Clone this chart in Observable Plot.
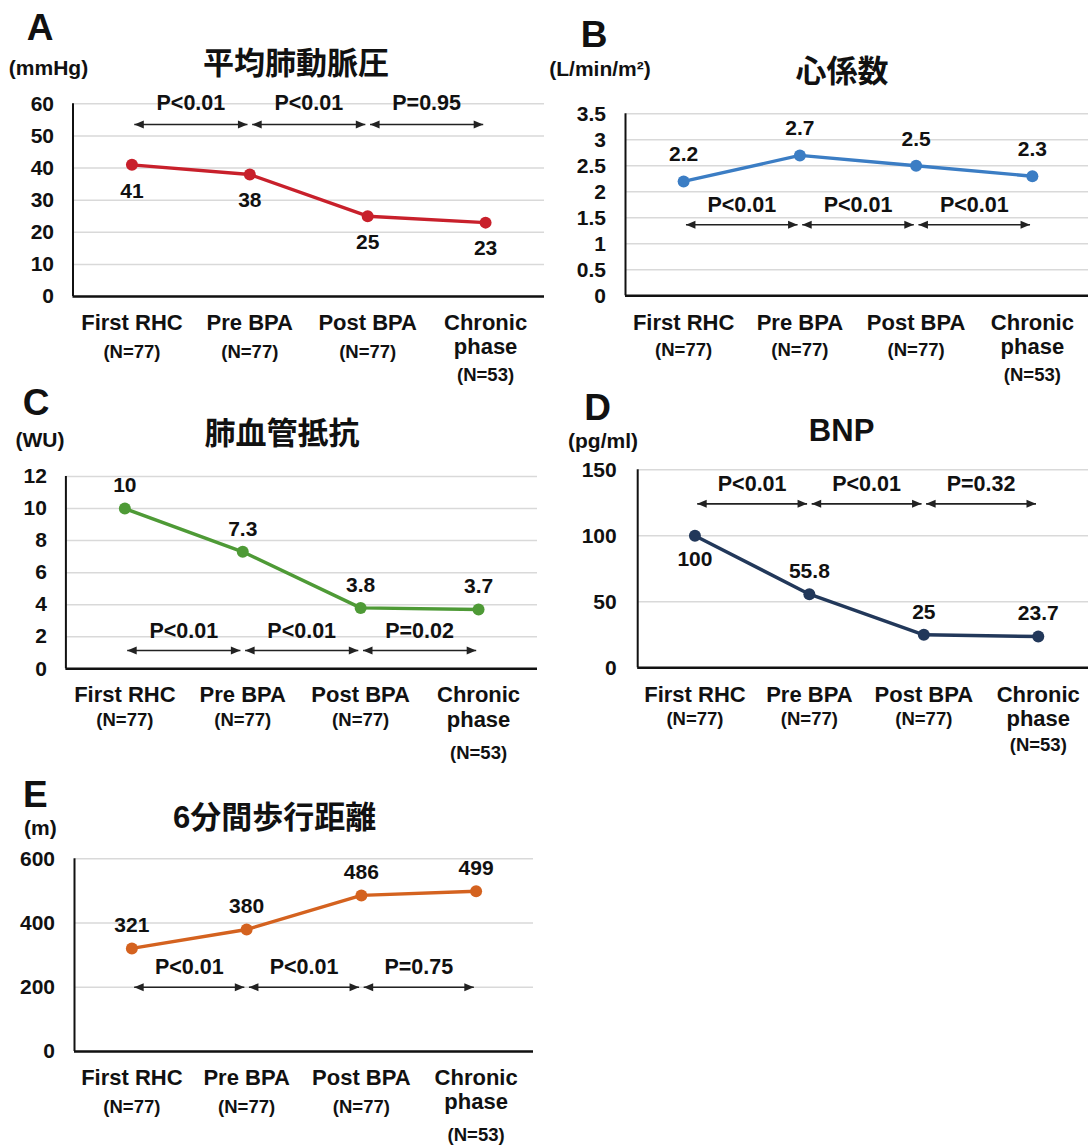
<!DOCTYPE html>
<html><head><meta charset="utf-8">
<script src="https://cdn.jsdelivr.net/npm/d3@7"></script>
<script src="https://cdn.jsdelivr.net/npm/@observablehq/plot@0.6"></script>
<style>
html,body{margin:0;padding:0;background:#fff;overflow:hidden;}
#root{position:relative;width:1088px;height:1145px;overflow:hidden;background:#fff;}
.panel{position:absolute;}
.lbl{position:absolute;transform:translate(-50%,-50%);line-height:1;white-space:nowrap;
  font-family:'Liberation Sans',Arial,'Noto Sans CJK JP',sans-serif;font-weight:700;color:#111;}
</style></head><body><div id="root"></div>
<script>
// ---------- data ----------
const categories = ["First RHC", "Pre BPA", "Post BPA", "Chronic\nphase"];
const sampleSizes = ["(N=77)", "(N=77)", "(N=77)", "(N=53)"];
const panelLetters = ["A", "B", "C", "D", "E"];
const panelTitles = ["平均肺動脈圧", "心係数", "肺血管抵抗", "BNP", "6分間歩行距離"];
const panelUnits = ["(mmHg)", "(L/min/m²)", "(WU)", "(pg/ml)", "(m)"];

const mpapValues = [41, 38, 25, 23];
const mpapLabels = ["41", "38", "25", "23"];
const mpapP = ["P<0.01", "P<0.01", "P=0.95"];
const mpapTicks = [0, 10, 20, 30, 40, 50, 60];
const mpapTickLabels = ["0", "10", "20", "30", "40", "50", "60"];

const ciValues = [2.2, 2.7, 2.5, 2.3];
const ciLabels = ["2.2", "2.7", "2.5", "2.3"];
const ciP = ["P<0.01", "P<0.01", "P<0.01"];
const ciTicks = [0, 0.5, 1, 1.5, 2, 2.5, 3, 3.5];
const ciTickLabels = ["0", "0.5", "1", "1.5", "2", "2.5", "3", "3.5"];

const pvrValues = [10, 7.3, 3.8, 3.7];
const pvrLabels = ["10", "7.3", "3.8", "3.7"];
const pvrP = ["P<0.01", "P<0.01", "P=0.02"];
const pvrTicks = [0, 2, 4, 6, 8, 10, 12];
const pvrTickLabels = ["0", "2", "4", "6", "8", "10", "12"];

const bnpValues = [100, 55.8, 25, 23.7];
const bnpLabels = ["100", "55.8", "25", "23.7"];
const bnpP = ["P<0.01", "P<0.01", "P=0.32"];
const bnpTicks = [0, 50, 100, 150];
const bnpTickLabels = ["0", "50", "100", "150"];

const walkValues = [321, 380, 486, 499];
const walkLabels = ["321", "380", "486", "499"];
const walkP = ["P<0.01", "P<0.01", "P=0.75"];
const walkTicks = [0, 200, 400, 600];
const walkTickLabels = ["0", "200", "400", "600"];

// ---------- layout ----------
const FONT = "'Liberation Sans', Arial, 'Noto Sans CJK JP', sans-serif";
const panels = [
  {values: mpapValues, labels: mpapLabels, p: mpapP, ticks: mpapTicks, tickLabels: mpapTickLabels,
   color: "#C8202B", box: {left: 0, top: 0, w: 545, h: 388}, m: {l: 72.5, r: 1, t: 103.3, b: 92},
   yMax: 60, pY: 60.1, arrowY: 53.55, labelDy: 26, below: [true, true, true, true], tickDx: -19,
   catDy: 16.5, nDy: 61, n2Dy: 84.5,
   letter: [40, 27], unit: [48.5, 67], title: [296, 63]},
  {values: ciValues, labels: ciLabels, p: ciP, ticks: ciTicks, tickLabels: ciTickLabels,
   color: "#3B7DC4", box: {left: 545, top: 0, w: 545, h: 388}, m: {l: 80, r: 0, t: 113.3, b: 92.7},
   yMax: 3.5, pY: 1.737, arrowY: 1.365, labelDy: 27, below: [false, false, false, false], tickDx: -19.5,
   catDy: 17, nDy: 60, n2Dy: 85,
   letter: [594, 34], unit: [600, 68.3], title: [842, 70.7]},
  {values: pvrValues, labels: pvrLabels, p: pvrP, ticks: pvrTicks, tickLabels: pvrTickLabels,
   color: "#4E9A36", box: {left: 0, top: 388, w: 545, h: 380}, m: {l: 65.4, r: 8, t: 88, b: 99.7},
   yMax: 12, pY: 2.346, arrowY: 1.142, labelDy: 23, below: [false, false, false, false], tickDx: -19,
   catDy: 16.5, nDy: 57.5, n2Dy: 90,
   letter: [36, 401.7], unit: [40, 439.3], title: [282, 433.3]},
  {values: bnpValues, labels: bnpLabels, p: bnpP, ticks: bnpTicks, tickLabels: bnpTickLabels,
   color: "#22385A", box: {left: 545, top: 388, w: 550, h: 380}, m: {l: 92.2, r: 0, t: 81.3, b: 100.7},
   yMax: 150, pY: 139.4, arrowY: 124.2, labelDy: 23, below: [true, false, false, false], tickDx: -21,
   catDy: 17, nDy: 57, n2Dy: 83,
   letter: [597.7, 406.7], unit: [603, 440], title: [841.6, 430]},
  {values: walkValues, labels: walkLabels, p: walkP, ticks: walkTicks, tickLabels: walkTickLabels,
   color: "#D4621F", box: {left: 0, top: 768, w: 545, h: 377}, m: {l: 74, r: 12, t: 90.3, b: 94},
   yMax: 600, pY: 262.5, arrowY: 200.2, labelDy: 23, below: [false, false, false, false], tickDx: -19.5,
   catDy: 16.5, nDy: 61, n2Dy: 89,
   letter: [35.3, 794], unit: [40.4, 826.7], title: [274.6, 816.7]}
];

const headRight = {draw(ctx) { ctx.moveTo(0, 0); ctx.lineTo(-9.5, -4); ctx.lineTo(-9.5, 4); ctx.closePath(); }};
const headLeft = {draw(ctx) { ctx.moveTo(0, 0); ctx.lineTo(9.5, -4); ctx.lineTo(9.5, 4); ctx.closePath(); }};
const INK = "#111";
const root = document.getElementById("root");

panels.forEach((L, k) => {
  const pts = L.values.map((v, i) => ({i, v, label: L.labels[i], below: L.below[i]}));
  const cats = categories.map((name, i) => ({i, name, n: sampleSizes[i], twoLine: name.includes("\n")}));
  const inset = 0.02;
  const seg = L.p.map((p, i) => ({a: i + inset, b: i + 1 - inset, mid: i + 0.5, p}));
  const txt = {fontFamily: FONT, fontWeight: 700, fill: INK};

  const chart = Plot.plot({
    width: L.box.w, height: L.box.h,
    marginLeft: L.m.l, marginRight: L.m.r, marginTop: L.m.t, marginBottom: L.m.b,
    x: {type: "linear", domain: [-0.5, 3.5], axis: null},
    y: {type: "linear", domain: [0, L.yMax], axis: null},
    style: `background: transparent; overflow: visible; font-family: ${FONT};`,
    marks: [
      Plot.ruleY(L.ticks, {stroke: "#d9d9d9", strokeWidth: 1.5}),
      Plot.ruleX([-0.5], {y1: 0, y2: L.yMax, stroke: INK, strokeWidth: 2}),
      Plot.ruleY([0], {stroke: INK, strokeWidth: 2.5}),
      Plot.text(L.ticks, {x: () => -0.5, y: d => d, text: (d, i) => L.tickLabels[i], textAnchor: "end",
        dx: L.tickDx, fontSize: 21, ...txt}),
      Plot.link(seg, {x1: "a", x2: "b", y1: () => L.arrowY, y2: () => L.arrowY, stroke: "#222", strokeWidth: 1.6}),
      Plot.dot(seg, {x: "a", y: () => L.arrowY, symbol: headLeft, fill: "#222", stroke: "none"}),
      Plot.dot(seg, {x: "b", y: () => L.arrowY, symbol: headRight, fill: "#222", stroke: "none"}),
      Plot.text(seg, {x: "mid", y: () => L.pY, text: "p", fontSize: 21.5, ...txt}),
      Plot.line(pts, {x: "i", y: "v", stroke: L.color, strokeWidth: 3.4}),
      Plot.dot(pts, {x: "i", y: "v", r: 6, fill: L.color, stroke: "none"}),
      Plot.text(pts.filter(d => !d.below), {x: "i", y: "v", text: "label", dy: -L.labelDy, fontSize: 21, ...txt}),
      Plot.text(pts.filter(d => d.below), {x: "i", y: "v", text: "label", dy: L.labelDy, fontSize: 21, ...txt}),
      Plot.text(cats, {x: "i", frameAnchor: "bottom", text: "name", lineAnchor: "top", lineHeight: 1.1,
        dy: L.catDy, fontSize: 22, ...txt}),
      Plot.text(cats.filter(d => !d.twoLine), {x: "i", frameAnchor: "bottom", text: "n", dy: L.nDy, fontSize: 18.5, ...txt}),
      Plot.text(cats.filter(d => d.twoLine), {x: "i", frameAnchor: "bottom", text: "n", dy: L.n2Dy, fontSize: 18.5, ...txt})
    ]
  });
  const wrap = document.createElement("div");
  wrap.className = "panel";
  wrap.style.left = L.box.left + "px";
  wrap.style.top = L.box.top + "px";
  wrap.style.width = L.box.w + "px";
  wrap.style.height = L.box.h + "px";
  wrap.appendChild(chart);
  root.appendChild(wrap);
});

// annotations (letters, units, titles) drawn on top
panels.forEach((L, k) => {
  const add = (text, [x, y], size) => {
    const d = document.createElement("div");
    d.className = "lbl";
    d.textContent = text;
    d.style.left = x + "px";
    d.style.top = y + "px";
    d.style.fontSize = size + "px";
    root.appendChild(d);
  };
  add(panelLetters[k], L.letter, 37);
  add(panelUnits[k], L.unit, 21);
  add(panelTitles[k], L.title, 31);
});
</script>
</body></html>
